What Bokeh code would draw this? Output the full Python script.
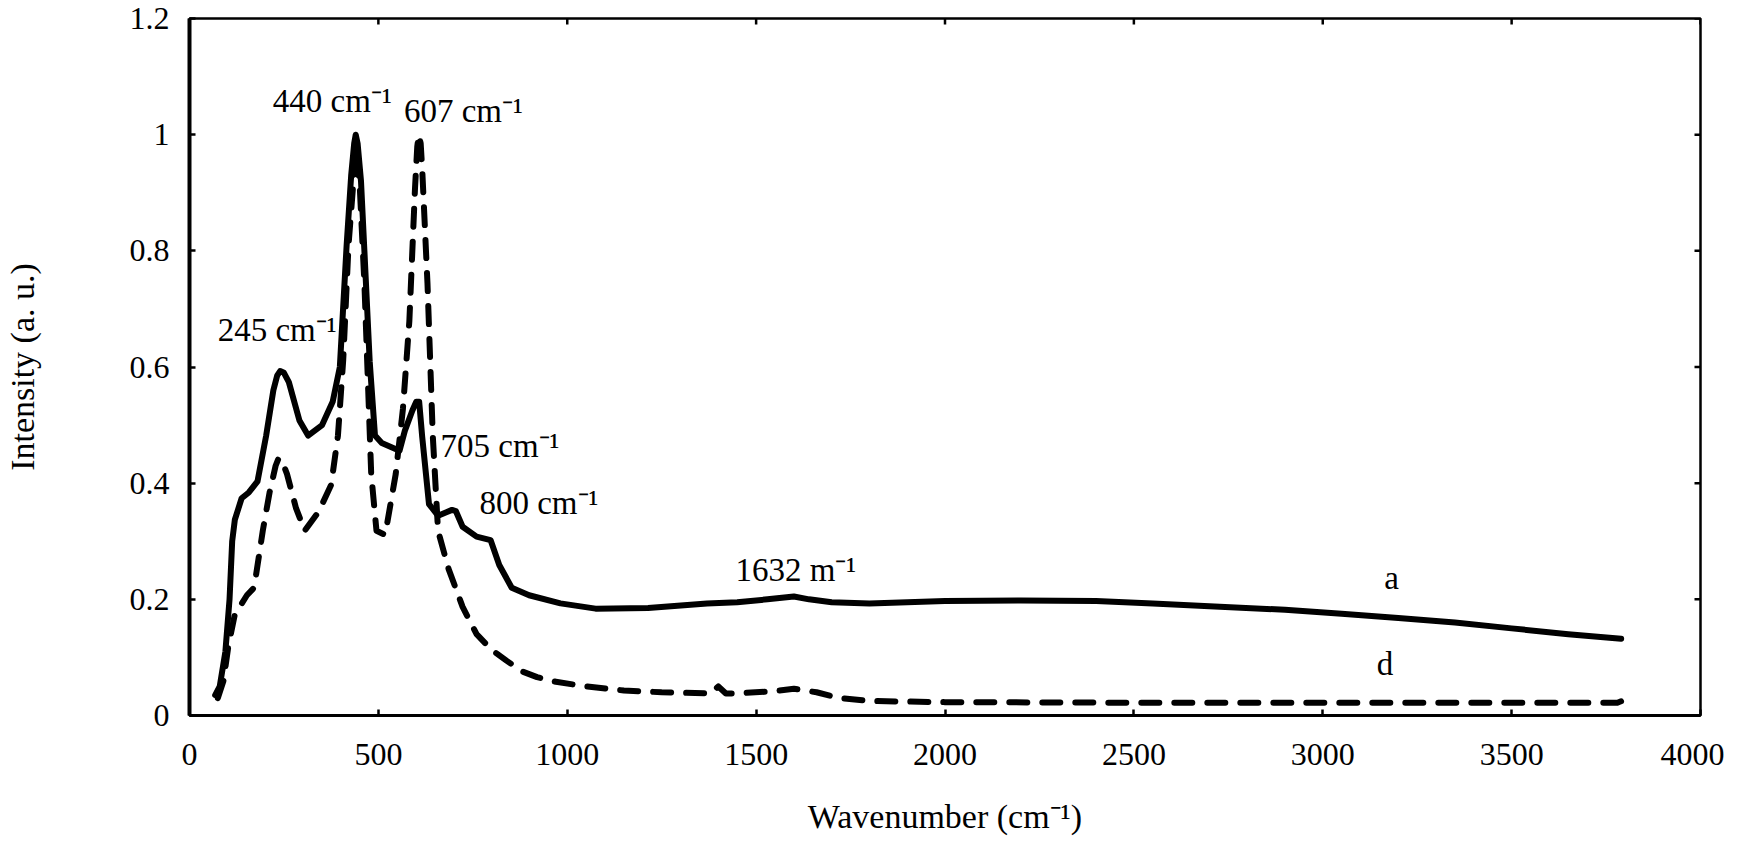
import math
from bokeh.plotting import figure
from bokeh.models import FixedTicker, Label
from bokeh.embed import file_html
from bokeh.resources import INLINE

# ---- data ----
wavenumber_a = [68, 80, 95, 106, 113, 120, 138, 157, 180, 203, 222, 232, 240, 250, 263, 291,
                314, 351, 379, 398, 416, 428, 436, 440, 445, 454, 463, 477, 491, 509, 556,
                570, 590, 600, 608, 616, 634, 658, 680, 695, 705, 723, 760, 797, 820, 853,
                899, 982, 1075, 1214, 1370, 1450, 1530, 1600, 1640, 1700, 1800, 1900, 2000,
                2200, 2400, 2550, 2700, 2900, 3050, 3200, 3350, 3500, 3650, 3790]
intensity_a = [0.035, 0.05, 0.11, 0.2, 0.3, 0.337, 0.374, 0.384, 0.403, 0.482, 0.56, 0.585,
               0.593, 0.59, 0.574, 0.508, 0.482, 0.50, 0.54, 0.60, 0.81, 0.93, 0.985, 1.0,
               0.985, 0.92, 0.80, 0.61, 0.482, 0.469, 0.456, 0.49, 0.525, 0.54, 0.54, 0.48,
               0.364, 0.344, 0.35, 0.354, 0.352, 0.325, 0.308, 0.302, 0.259, 0.22, 0.207,
               0.193, 0.184, 0.185, 0.193, 0.195, 0.2, 0.205, 0.2, 0.195, 0.193, 0.195,
               0.197, 0.198, 0.197, 0.193, 0.188, 0.182, 0.175, 0.168, 0.16, 0.15, 0.14,
               0.132]

wavenumber_d = [75, 90, 103, 120, 152, 171, 194, 212, 228, 236, 245, 258, 282, 305, 342, 375,
                393, 407, 421, 435, 441, 450, 463, 472, 481, 495, 518, 546, 565, 582, 597,
                603, 607, 612, 616, 630, 644, 658, 686, 723, 760, 800, 840, 880, 920, 970,
                1050, 1150, 1250, 1380, 1400, 1420, 1450, 1550, 1600, 1660, 1720, 1800,
                2000, 2500, 3000, 3500, 3780, 3800]
intensity_d = [0.03, 0.06, 0.12, 0.174, 0.207, 0.22, 0.318, 0.384, 0.43, 0.443, 0.438,
               0.416, 0.357, 0.318, 0.351, 0.397, 0.482, 0.613, 0.81, 0.928, 0.974, 0.92,
               0.744, 0.58, 0.416, 0.318, 0.311, 0.416, 0.528, 0.679, 0.908, 0.98, 1.0,
               0.985, 0.941, 0.744, 0.482, 0.318, 0.252, 0.187, 0.14, 0.113, 0.094, 0.076,
               0.066, 0.058, 0.05, 0.043, 0.04, 0.038, 0.05, 0.038, 0.038, 0.042, 0.046,
               0.04, 0.03, 0.025, 0.023, 0.022, 0.022, 0.022, 0.022, 0.027]

x_ticks = [0, 500, 1000, 1500, 2000, 2500, 3000, 3500, 4000]
y_ticks = [0, 0.2, 0.4, 0.6, 0.8, 1.0, 1.2]
x_max = 4000
y_max = 1.2

ann_text = ["440 cm\u207b\u00b9", "607 cm\u207b\u00b9", "245 cm\u207b\u00b9",
            "705 cm\u207b\u00b9", "800 cm\u207b\u00b9", "1632 m\u207b\u00b9", "a", "d"]
ann_x = [378, 725, 232, 822, 925, 1605, 3182, 3165]
ann_y = [1.058, 1.04, 0.664, 0.464, 0.366, 0.25, 0.236, 0.089]

FONT = "Liberation Serif"

p = figure(frame_width=1511, frame_height=697, x_range=(0, x_max), y_range=(0, y_max),
           output_backend="svg", toolbar_location=None,
           min_border_left=173, min_border_top=18, min_border_right=24, min_border_bottom=0,
           x_axis_label="Wavenumber (cm\u207b\u00b9)", y_axis_label="Intensity (a. u.)")
p.grid.visible = False
p.outline_line_color = "black"
p.outline_line_width = 2.5
p.background_fill_color = "white"
p.border_fill_color = "white"

p.line(wavenumber_a, intensity_a, line_color="black", line_width=6, line_join="round",
       line_cap="round")
p.line(wavenumber_d, intensity_d, line_color="black", line_width=6, line_dash="18 15",
       line_cap="round", line_join="round")

# inward ticks on top and right edges (half of each dash is clipped by the frame)
p.scatter(x_ticks, [y_max] * len(x_ticks), marker="dash", size=12, angle=math.pi / 2,
          line_color="black", line_width=2.5)
p.scatter([x_max] * len(y_ticks), y_ticks, marker="dash", size=12,
          line_color="black", line_width=2.5)

for ax in (p.xaxis[0], p.yaxis[0]):
    ax.major_tick_in = 6
    ax.major_tick_out = 0
    ax.minor_tick_in = 0
    ax.minor_tick_out = 0
    ax.axis_line_color = "black"
    ax.major_tick_line_color = "black"
    ax.major_tick_line_width = 2.5
    ax.major_label_text_font = FONT
    ax.major_label_text_font_size = "32px"
    ax.major_label_text_color = "black"
    ax.axis_label_text_font = FONT
    ax.axis_label_text_font_size = "34px"
    ax.axis_label_text_font_style = "normal"
    ax.axis_label_text_color = "black"

p.xaxis[0].ticker = FixedTicker(ticks=x_ticks)
p.yaxis[0].ticker = FixedTicker(ticks=y_ticks)
p.yaxis[0].major_label_overrides = {0: "0", 1: "1", 1.2: "1.2"}
p.yaxis[0].axis_line_width = 4
p.xaxis[0].axis_line_width = 3
p.xaxis[0].major_label_standoff = 28
p.yaxis[0].major_label_standoff = 20
p.xaxis[0].axis_label_standoff = 30
p.yaxis[0].axis_label_standoff = 86

for t, x, y in zip(ann_text, ann_x, ann_y):
    p.add_layout(Label(x=x, y=y, text=t, text_font=FONT, text_font_size="33px",
                       text_color="black", text_align="center", text_baseline="middle"))

open("out.html", "w").write(file_html(p, INLINE))
